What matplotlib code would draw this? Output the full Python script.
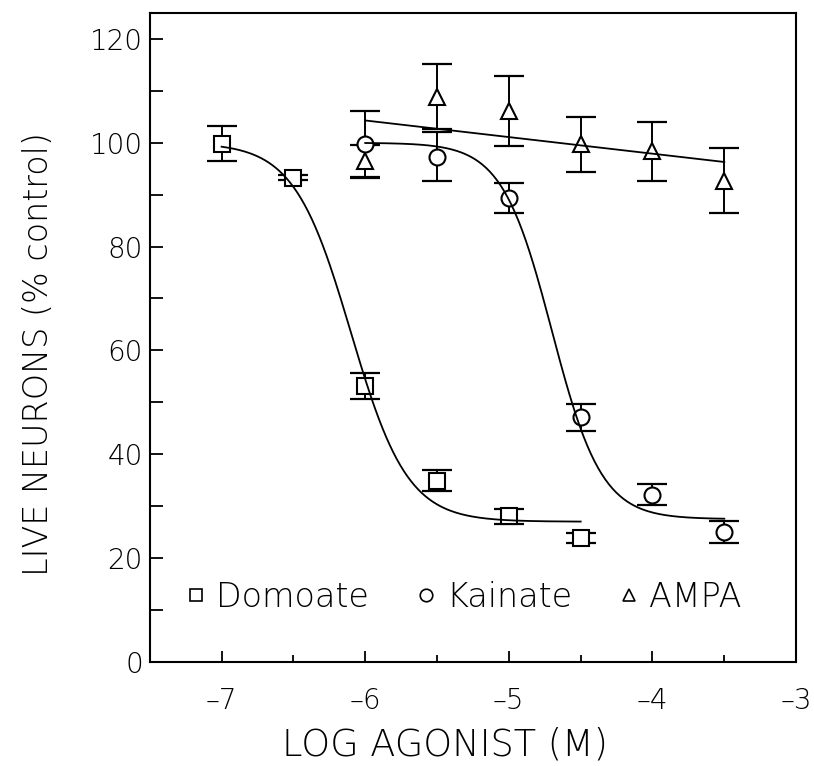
import numpy as np
import matplotlib
matplotlib.use("Agg")
import matplotlib.pyplot as plt
from matplotlib.lines import Line2D
from matplotlib.ticker import MultipleLocator

# Domoate (squares)
dom_x = [-7.0, -6.5, -6.0, -5.5, -5.0, -4.5]
dom_y = [99.8, 93.3, 53.1, 34.9, 28.0, 23.9]
dom_err = [3.4, 0.5, 2.5, 2.0, 1.5, 1.0]

# Kainate (circles)
kai_x = [-6.0, -5.5, -5.0, -4.5, -4.0, -3.5]
kai_y = [99.8, 97.3, 89.3, 47.1, 32.2, 25.0]
kai_err = [6.4, 4.7, 2.9, 2.6, 2.0, 2.2]

# AMPA (triangles)
ampa_x = [-6.0, -5.5, -5.0, -4.5, -4.0, -3.5]
ampa_y = [96.4, 108.9, 106.1, 99.7, 98.4, 92.7]
ampa_err = [3.2, 6.3, 6.8, 5.3, 5.7, 6.2]

# fitted curves (top, bottom, log IC50, hill slope)
dom_fit = (100.0, 27.0, -6.1, 2.2)
kai_fit = (100.0, 27.5, -4.70, 2.5)
ampa_line = (104.3, 96.3)  # value at -6 and at -3.5

labels = ["Domoate", "Kainate", "AMPA"]
xtick_vals = [-7, -6, -5, -4, -3]


def hill(x, top, bottom, c, h):
    return bottom + (top - bottom) / (1 + 10 ** ((x - c) * h))


plt.rcParams['font.family'] = ['DejaVu Sans']
plt.rcParams['font.weight'] = 200
plt.rcParams['axes.labelweight'] = 200
fig = plt.figure(figsize=(8.14, 7.66), dpi=100)
ax = fig.add_axes([0.184, 0.136, 0.794, 0.847])

series = [(dom_x, dom_y, dom_err, 's'),
          (kai_x, kai_y, kai_err, 'o'),
          (ampa_x, ampa_y, ampa_err, '^')]
for xs, ys, es, m in series:
    ax.errorbar(xs, ys, yerr=es, fmt='none', ecolor='black', elinewidth=1.4,
                capsize=11, capthick=1.6, zorder=2)
    ax.plot(xs, ys, linestyle='none', marker=m, markersize=11.5,
            markerfacecolor='white', markeredgecolor='black',
            markeredgewidth=1.5, zorder=3)

xd = np.linspace(dom_x[0], dom_x[-1], 200)
ax.plot(xd, hill(xd, *dom_fit), color='black', lw=1.3, zorder=4)
xk = np.linspace(kai_x[0], kai_x[-1], 200)
ax.plot(xk, hill(xk, *kai_fit), color='black', lw=1.3, zorder=4)
ax.plot([ampa_x[0], ampa_x[-1]], list(ampa_line), color='black', lw=1.3, zorder=4)

ax.set_xlim(-7.5, -3)
ax.set_ylim(0, 125)
ax.set_xticks(xtick_vals)
ax.set_xticklabels(['\u2013' + str(-v) for v in xtick_vals])
ax.xaxis.set_minor_locator(MultipleLocator(0.5))
ax.yaxis.set_major_locator(MultipleLocator(20))
ax.yaxis.set_minor_locator(MultipleLocator(10))
ax.tick_params(which='both', direction='in', top=False, right=False,
               width=1.3, labelsize=20)
ax.tick_params(axis='x', which='major', length=8, pad=18)
ax.tick_params(axis='x', which='minor', length=5)
ax.tick_params(axis='y', which='both', length=9, pad=5)
for s in ax.spines.values():
    s.set_linewidth(1.5)

ax.set_xlabel("LOG AGONIST (M)", fontsize=26.5)
ax.set_ylabel("LIVE NEURONS (% control)", fontsize=24)
ax.xaxis.set_label_coords(0.457, -0.10)
ax.yaxis.set_label_coords(-0.147, 0.474)

handles = [Line2D([], [], linestyle='none', marker=m, markersize=9,
                  markerfacecolor='white', markeredgecolor='black',
                  markeredgewidth=1.2) for m in ['s', 'o', '^']]
ax.legend(handles, labels, loc='center', bbox_to_anchor=(0.486, 0.099),
          ncol=3, frameon=False, fontsize=24, handletextpad=0.3,
          columnspacing=1.4, handlelength=0.6)

fig.savefig("out.png", dpi=100)
